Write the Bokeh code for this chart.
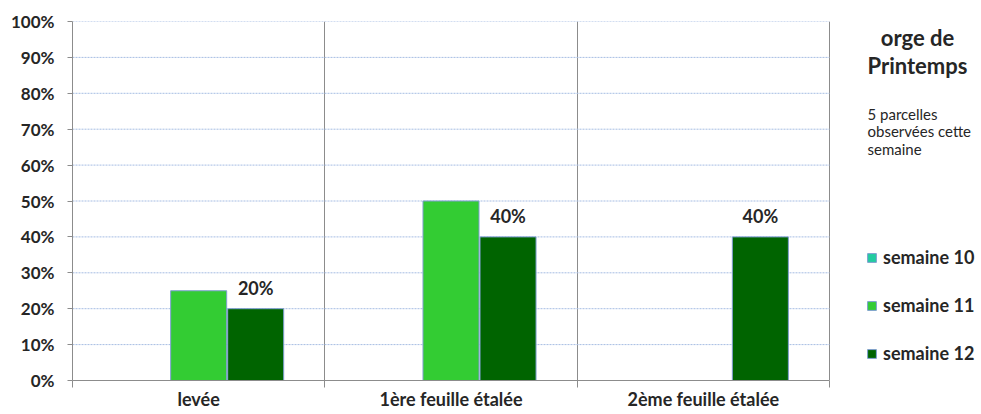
from bokeh.plotting import figure
from bokeh.models import (ColumnDataSource, Range1d, FixedTicker, NumeralTickFormatter,
                          LabelSet, Label, Legend, LegendItem)
from bokeh.core.properties import value
from bokeh.transform import dodge
from bokeh.embed import file_html
from bokeh.resources import INLINE
import numpy as np

categories = ["levée", "1ère feuille étalée", "2ème feuille étalée"]
series_names = ["semaine 10", "semaine 11", "semaine 12"]
semaine_10 = [0.0, 0.0, 0.0]
semaine_11 = [0.25, 0.50, 0.0]
semaine_12 = [0.20, 0.40, 0.40]
y_ticks = [0.0, 0.1, 0.2, 0.3, 0.4, 0.5, 0.6, 0.7, 0.8, 0.9, 1.0]
title_lines = ["orge de", "Printemps"]
note_lines = ["5 parcelles", "observées cette", "semaine"]

colors = ["#22CCA0", "#33CC33", "#006400"]
FONT = "Lato"
TXT = "#262626"
GRAY = "#8C8C8C"

W, H = 979, 412
LEFT, TOP, BOTTOM = 72, 21, 32
PLOT_W = 757  # pixel width of the category area
n = len(categories)
frame_w = W - LEFT
x_max = n * frame_w / PLOT_W

xpos = np.arange(n) + 0.5
src = ColumnDataSource(dict(
    x=xpos, s10=semaine_10, s11=semaine_11, s12=semaine_12,
    lbl=[f"{v*100:.0f}%" for v in semaine_12],
))
grid_y = y_ticks[1:]
grid_src = ColumnDataSource(dict(y=grid_y, x0=[0] * len(grid_y), x1=[n] * len(grid_y)))

p = figure(width=W, height=H, x_range=Range1d(0, x_max), y_range=Range1d(0, 1),
           output_backend="svg", toolbar_location=None,
           min_border_left=LEFT, min_border_right=0, min_border_top=TOP, min_border_bottom=BOTTOM)
p.outline_line_color = None
p.background_fill_color = "white"

# horizontal grid lines only across the category area
p.segment(x0="x0", x1="x1", y0="y", y1="y", source=grid_src,
          line_color="#A6BDE3", line_dash="2 1", line_width=1)

bw = 0.222
off = 0.226
renderers = []
for name, col, o, c in zip(series_names, ["s10", "s11", "s12"], [-off, 0.0, off], colors):
    r = p.vbar(x=dodge("x", o), top=col, width=bw, source=src,
               fill_color=c, line_color="#7F9FD0", line_width=1)
    renderers.append(r)

labels = LabelSet(x=dodge("x", off), y="s12", text="lbl", source=src, y_offset=21,
                  text_align="center", text_baseline="middle",
                  text_font=value(FONT), text_font_style="bold", text_font_size="18px",
                  text_color=TXT)
p.add_layout(labels)

# y axis
p.yaxis.ticker = FixedTicker(ticks=y_ticks)
p.yaxis.formatter = NumeralTickFormatter(format="0%")
p.yaxis.axis_line_color = GRAY
p.yaxis.major_tick_line_color = GRAY
p.yaxis.major_tick_out = 5
p.yaxis.major_tick_in = 0
p.yaxis.minor_tick_line_color = None
p.yaxis.major_label_standoff = 13
p.yaxis.major_label_text_font = FONT
p.yaxis.major_label_text_font_style = "bold"
p.yaxis.major_label_text_font_size = "17px"
p.yaxis.major_label_text_color = TXT

# x axis
p.xaxis.bounds = (0, n)
p.xaxis.ticker = FixedTicker(ticks=list(xpos), minor_ticks=list(range(n + 1)))
p.xaxis.major_label_overrides = {float(v): c for v, c in zip(xpos, categories)}
p.xaxis.axis_line_color = GRAY
p.xaxis.major_tick_line_color = None
p.xaxis.major_tick_out = 0
p.xaxis.major_tick_in = 0
p.xaxis.minor_tick_line_color = GRAY
p.xaxis.minor_tick_out = 7
p.xaxis.minor_tick_in = 0
p.xaxis.major_label_standoff = 0
p.xaxis.major_label_text_font = FONT
p.xaxis.major_label_text_font_style = "bold"
p.xaxis.major_label_text_font_size = "18px"
p.xaxis.major_label_text_color = TXT

# grids
p.ygrid.grid_line_color = None
p.xgrid.grid_line_color = None
p.xgrid.minor_grid_line_color = GRAY
p.xgrid.minor_grid_line_width = 1

# legend
legend = Legend(items=[LegendItem(label=nm, renderers=[r]) for nm, r in zip(series_names, renderers)],
                location=(794, 16), orientation="vertical",
                glyph_width=11, glyph_height=11, label_standoff=6,
                label_height=20, spacing=28, padding=0, margin=0,
                border_line_color=None, background_fill_alpha=0,
                label_text_font=FONT, label_text_font_style="bold",
                label_text_font_size="18px", label_text_color=TXT)
legend.spacing = 26
p.add_layout(legend)

for t, yy in zip(title_lines, [343, 315]):
    p.add_layout(Label(x=845, y=yy, x_units="screen", y_units="screen", text=t,
                       text_align="center", text_baseline="middle",
                       text_font=FONT, text_font_style="bold", text_font_size="22px",
                       text_color=TXT))
for t, yy in zip(note_lines, [267, 250, 232]):
    p.add_layout(Label(x=795, y=yy, x_units="screen", y_units="screen", text=t,
                       text_align="left", text_baseline="middle",
                       text_font=FONT, text_font_size="15px", text_color=TXT))

open("out.html", "w").write(file_html(p, INLINE))
